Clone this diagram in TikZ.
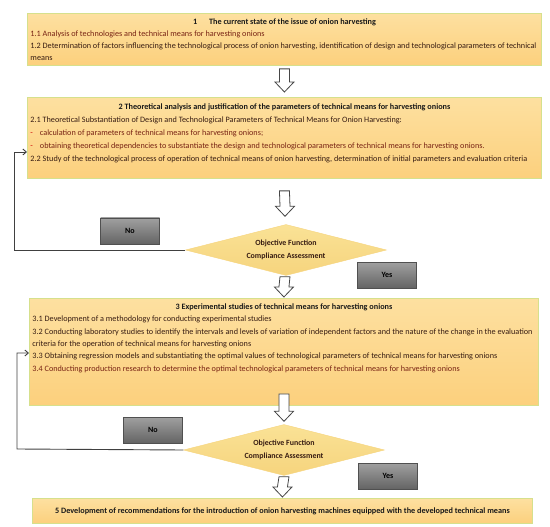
\documentclass[tikz,border=0pt]{standalone}
\usepackage{fontspec}
\setmainfont{Carlito}
\usetikzlibrary{shapes.geometric,arrows.meta,calc}
\definecolor{boxfill}{RGB}{252,208,125}
\definecolor{boxfilltop}{RGB}{253,224,160}
\definecolor{boxedge}{RGB}{214,224,140}
\definecolor{dmdfill}{RGB}{246,212,125}
\definecolor{dmdtop}{RGB}{250,226,150}
\definecolor{txt}{RGB}{55,28,18}
\definecolor{txtred}{RGB}{120,35,20}
\definecolor{grayA}{RGB}{160,160,160}
\definecolor{grayB}{RGB}{100,100,100}
\definecolor{grayedge}{RGB}{80,80,80}
\definecolor{arrowedge}{RGB}{70,70,70}
\newcommand\hollowarrow[2]{%
  \draw[hollow] ($(#1)+(-5,0)$) -- ($(#2)+(-5,-10)$) -- ($(#2)+(-9.5,-10)$) -- (#2)
    -- ($(#2)+(9.5,-10)$) -- ($(#2)+(5,-10)$) -- ($(#1)+(5,0)$) -- cycle;}
\begin{document}
\begin{tikzpicture}[x=1pt,y=-1pt,
  stagebox/.style={draw=boxedge, line width=0.9pt, top color=boxfilltop, bottom color=boxfill,
    inner xsep=3pt, inner ysep=2.5pt, anchor=north west, text=txt, align=left},
  txtfont/.style={font=\fontsize{8.2}{#1}\selectfont},
  decision/.style={diamond, aspect=4, draw=dmdfill, top color=dmdtop, bottom color=dmdfill,
    inner sep=0pt, minimum width=201pt, minimum height=51pt, align=center,
    font=\fontsize{7.9}{13.5}\selectfont\bfseries, text=txt},
  answer/.style={draw=grayedge, line width=0.6pt, top color=grayA, bottom color=grayB,
    minimum width=59pt, minimum height=26pt, inner sep=0pt,
    font=\fontsize{8}{9}\selectfont\bfseries, text=black},
  hollow/.style={draw=arrowedge, fill=white, line width=0.8pt, line join=miter},
  feedback/.style={draw=black!75, line width=0.9pt, -{Straight Barb[length=3.5pt,width=6pt]}}
]
\useasboundingbox (0,0) rectangle (550,527);

% Stage 1
\node[stagebox, txtfont=12] (b1) at (27,13) {\parbox[c][47pt][t]{508pt}{\strut\hfill\textbf{\color{black!90}1\quad\ \ The current state of the issue of onion harvesting}\hfill\strut\\
{\color{txtred}1.1 Analysis of technologies and technical means for harvesting onions}\\
1.2 Determination of factors influencing the technological process of onion harvesting, identification of design and technological parameters of technical\\
means}};

% Stage 2
\node[stagebox, txtfont=13.2] (b2) at (27,97) {\parbox[c][76pt][t]{508pt}{\strut\hfill\textbf{\color{black!90}2 Theoretical analysis and justification of the parameters of technical means for harvesting onions}\hfill\strut\\
2.1 Theoretical Substantiation of Design and Technological Parameters of Technical Means for Onion Harvesting:\\
{\color{red!80!black}-}\hspace{7pt}{\color{txtred}calculation of parameters of technical means for harvesting onions;}\\
{\color{red!80!black}-}\hspace{7pt}{\color{txtred}obtaining theoretical dependencies to substantiate the design and technological parameters of technical means for harvesting onions.}\\
2.2 Study of the technological process of operation of technical means of onion harvesting, determination of initial parameters and evaluation criteria}};

% Decision 1
\node[decision] (d1) at (286,250) {Objective Function\\Compliance Assessment};
\node[answer] (no1) at (130,231) {No};
\node[answer] (yes1) at (387,275) {Yes};

% Stage 3
\node[stagebox, txtfont=12.3] (b3) at (29,298) {\parbox[c][102pt][t]{503pt}{\strut\hfill\textbf{\color{black!90}3 Experimental studies of technical means for harvesting onions}\hfill\strut\\
3.1 Development of a methodology for conducting experimental studies\\
3.2 Conducting laboratory studies to identify the intervals and levels of variation of independent factors and the nature of the change in the evaluation\\
criteria for the operation of technical means for harvesting onions\\
3.3 Obtaining regression models and substantiating the optimal values of technological parameters of technical means for harvesting onions\\
{\color{txtred}3.4 Conducting production research to determine the optimal technological parameters of technical means for harvesting onions}}};

% Decision 2
\node[decision] (d2) at (284,450) {Objective Function\\Compliance Assessment};
\node[answer] (no2) at (153,430) {No};
\node[answer] (yes2) at (388,476) {Yes};

% Stage 5
\node[draw=boxedge, line width=0.9pt, top color=boxfilltop, bottom color=boxfill,
  minimum width=500pt, minimum height=25pt, inner sep=0pt, anchor=north west,
  font=\fontsize{8.2}{9}\selectfont\bfseries, text=black!90] (b5) at (32,498)
  {5 Development of recommendations for the introduction of onion harvesting machines equipped with the developed technical means};

% hollow arrows
\coordinate (a1s) at ($(b1.south)+(0,3)$);
\coordinate (a1e) at ($(b2.north)+(0,-5)$);
\hollowarrow{a1s}{a1e}
\coordinate (a2s) at ($(b2.south)+(0,12)$);
\coordinate (a2e) at ($(d1.north)+(-1,-8)$);
\hollowarrow{a2s}{a2e}
\coordinate (a3s) at ($(d1.south)+(-1,1)$);
\coordinate (a3e) at ($(b3.north)+(0,-1)$);
\hollowarrow{a3s}{a3e}
\coordinate (a4s) at ($(b3.south)+(0,-12)$);
\coordinate (a4e) at ($(d2.north)+(0,-3)$);
\hollowarrow{a4s}{a4e}
\coordinate (a5s) at ($(d2.south)+(0,1)$);
\coordinate (a5e) at ($(b5.north)+(0,-1)$);
\hollowarrow{a5s}{a5e}

% feedback loops
\draw[feedback] (d1.west) -- (14,250) -- (14,152) -- (b2.west |- 0,152);
\draw[feedback] (d2.west) -- (17,449) -- (17,353) -- (b3.west |- 0,353);
\end{tikzpicture}
\end{document}
